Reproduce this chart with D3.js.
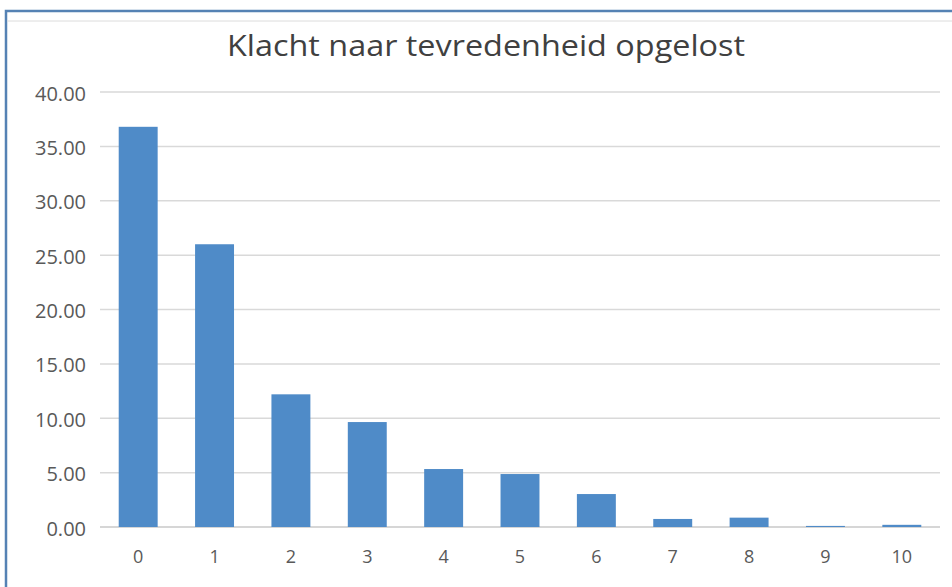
<!DOCTYPE html>
<html>
<head>
<meta charset="utf-8">
<script src="https://cdn.jsdelivr.net/npm/d3@7"></script>
<style>
  html, body { margin: 0; padding: 0; background: #fff; }
  svg { display: block; }
</style>
</head>
<body>
<script>
const categories = ['0', '1', '2', '3', '4', '5', '6', '7', '8', '9', '10'];
const values     = [36.8, 26.0, 12.2, 9.65, 5.33, 4.87, 3.03, 0.74, 0.86, 0.1, 0.2];
const yTicks     = [0, 5, 10, 15, 20, 25, 30, 35, 40];
const title      = 'Klacht naar tevredenheid opgelost';

const W = 952, H = 587;
const margin = { left: 100, right: 12, top: 92, bottom: 60 };
const font = '"Open Sans", "DejaVu Sans", sans-serif';

const svg = d3.select('body').append('svg')
    .attr('width', W)
    .attr('height', H);

// frame
svg.append('path')
    .attr('d', `M6,${H} V11 H${W}`)
    .attr('fill', 'none')
    .attr('stroke', '#5582b4')
    .attr('stroke-width', 2.5);
svg.append('line')
    .attr('x1', 7).attr('x2', W)
    .attr('y1', 21).attr('y2', 21)
    .attr('stroke', '#dcdcdc')
    .attr('stroke-width', 1);

const x = d3.scaleBand()
    .domain(categories)
    .range([margin.left, 940])
    .paddingInner(0.49)
    .paddingOuter(0.245);

const y = d3.scaleLinear()
    .domain([0, 40])
    .range([527, margin.top]);

// gridlines
svg.append('g')
  .selectAll('line')
  .data(yTicks)
  .join('line')
    .attr('x1', margin.left)
    .attr('x2', 940)
    .attr('y1', d => y(d))
    .attr('y2', d => y(d))
    .attr('stroke', d => d === 0 ? '#c8c8c8' : '#d9d9d9')
    .attr('stroke-width', 1.5);

// bars
svg.append('g')
  .selectAll('rect')
  .data(values)
  .join('rect')
    .attr('x', (d, i) => x(categories[i]))
    .attr('width', x.bandwidth())
    .attr('y', d => y(d))
    .attr('height', d => y(0) - y(d))
    .attr('fill', '#4f8bc8');

// y labels
const yAxis = d3.axisLeft(y)
    .tickValues(yTicks)
    .tickFormat(d3.format('.2f'))
    .tickSize(0)
    .tickPadding(14);
const gy = svg.append('g')
    .attr('transform', `translate(${margin.left},0)`)
    .call(yAxis);
gy.select('.domain').remove();
gy.selectAll('text')
    .attr('fill', '#595959')
    .attr('dy', '0.4em')
    .style('font-family', font)
    .style('font-size', '20px');

// x labels
const xAxis = d3.axisBottom(x).tickSize(0).tickPadding(23);
const gx = svg.append('g')
    .attr('transform', `translate(0,${y(0)})`)
    .call(xAxis);
gx.select('.domain').remove();
gx.selectAll('text')
    .attr('fill', '#595959')
    .style('font-family', font)
    .style('font-size', '18px');

// title
svg.append('text')
    .attr('x', 486)
    .attr('y', 56)
    .attr('text-anchor', 'middle')
    .attr('fill', '#404040')
    .attr('textLength', 518)
    .attr('lengthAdjust', 'spacingAndGlyphs')
    .style('font-family', font)
    .style('font-size', '29px')
    .text(title);
</script>
</body>
</html>
